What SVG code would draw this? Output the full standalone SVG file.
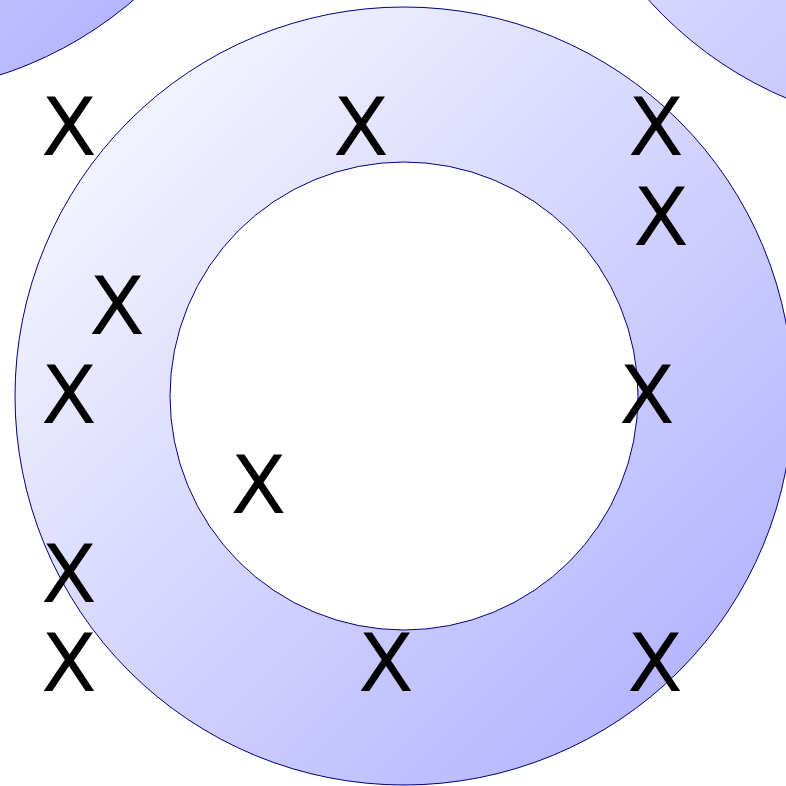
<svg xmlns="http://www.w3.org/2000/svg" width="786" height="786" viewBox="0 0 786 786">
  <defs>
    <linearGradient id="g" x1="0" y1="0" x2="1" y2="1">
      <stop offset="0" stop-color="#ffffff"/>
      <stop offset="1" stop-color="#aaaaff"/>
    </linearGradient>
    <style>
      .shape { fill: url(#g); stroke: #000080; stroke-width: 1; }
      .x { font-family: "DejaVu Sans", sans-serif; font-size: 81px; fill: #000; text-anchor: middle; }
    </style>
  </defs>
  <rect width="786" height="786" fill="#ffffff"/>
  <g id="corner-left">
    <circle class="shape" cx="-120" cy="-295" r="389"/>
  </g>
  <g id="corner-right">
    <circle class="shape" cx="938" cy="-260" r="389"/>
  </g>
  <g id="ring">
    <path class="shape" fill-rule="evenodd" d="M 15 396 A 389 389 0 1 0 793 396 A 389 389 0 1 0 15 396 Z M 170 396 A 234 234 0 1 0 638 396 A 234 234 0 1 0 170 396 Z"/>
  </g>
  <g id="marks">
    <text class="x" x="69" y="155.3">X</text>
    <text class="x" x="361" y="155.3">X</text>
    <text class="x" x="656" y="155.3">X</text>
    <text class="x" x="661" y="244.7">X</text>
    <text class="x" x="117" y="334">X</text>
    <text class="x" x="69" y="423.4">X</text>
    <text class="x" x="647" y="423.4">X</text>
    <text class="x" x="258.5" y="512.7">X</text>
    <text class="x" x="69" y="602">X</text>
    <text class="x" x="69" y="691.4">X</text>
    <text class="x" x="386" y="691.4">X</text>
    <text class="x" x="655" y="691.4">X</text>
  </g>
</svg>
